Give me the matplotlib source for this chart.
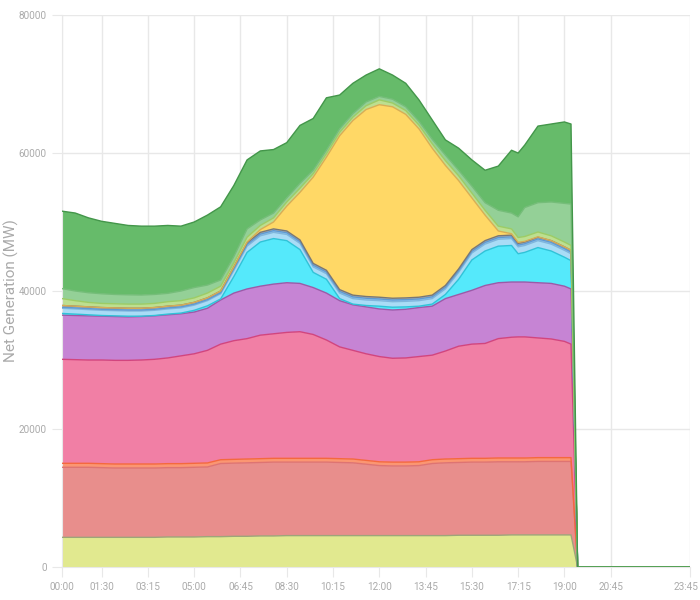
import matplotlib
matplotlib.use("Agg")
import matplotlib.pyplot as plt
import matplotlib.transforms as mtransforms
import numpy as np

# Sample times (HH:MM)
times = ["00:00", "00:30", "01:00", "01:30", "02:00", "02:30", "03:00", "03:30", "04:00", "04:30",
         "05:00", "05:30", "06:00", "06:30", "07:00", "07:30", "08:00", "08:30", "09:00", "09:30",
         "10:00", "10:30", "11:00", "11:30", "12:00", "12:30", "13:00", "13:30", "14:00", "14:30",
         "15:00", "15:30", "16:00", "16:30", "17:00", "17:15", "17:30", "18:00", "18:30", "19:00",
         "19:15", "19:30", "23:45"]

tick_labels = ["00:00", "01:30", "03:15", "05:00", "06:45", "08:30", "10:15",
               "12:00", "13:45", "15:30", "17:15", "19:00", "20:45", "23:45"]
y_ticks = [0, 20000, 40000, 60000, 80000]

# Net generation by source (MW), bottom of the stack first
nuclear = [4300, 4300, 4300, 4300, 4300, 4300, 4300, 4300, 4350, 4350,
           4350, 4400, 4400, 4450, 4450, 4500, 4500, 4550, 4550, 4550,
           4550, 4550, 4550, 4550, 4550, 4550, 4550, 4550, 4550, 4550,
           4600, 4600, 4600, 4600, 4650, 4650, 4650, 4650, 4650, 4650,
           4650, 0, 0]
coal = [10150, 10150, 10150, 10100, 10050, 10050, 10050, 10050, 10050, 10050,
        10100, 10100, 10600, 10600, 10650, 10650, 10700, 10650, 10650, 10650,
        10650, 10600, 10550, 10350, 10150, 10100, 10100, 10150, 10450, 10550,
        10550, 10600, 10600, 10650, 10600, 10600, 10600, 10650, 10650, 10650,
        10650, 0, 0]
biomass = [580, 580, 580, 580, 580, 580, 580, 580, 580, 580,
           580, 580, 550, 550, 550, 550, 550, 550, 550, 550,
           550, 550, 550, 550, 550, 550, 550, 550, 550, 550,
           550, 550, 550, 550, 550, 550, 550, 550, 550, 550,
           550, 0, 0]
gas_cc = [15070, 15020, 14970, 15020, 15020, 15020, 15070, 15170, 15320, 15620,
          15870, 16320, 16750, 17200, 17450, 17900, 18050, 18250, 18350, 17950,
          17150, 16200, 15750, 15450, 15250, 15050, 15100, 15250, 15150, 15650,
          16300, 16550, 16650, 17300, 17500, 17550, 17550, 17350, 17200, 16850,
          16450, 0, 0]
gas = [6400, 6400, 6400, 6350, 6350, 6300, 6300, 6300, 6250, 6100,
       6050, 6100, 6400, 6900, 7200, 7100, 7200, 7200, 7000, 6800,
       6800, 6700, 6600, 6800, 6900, 7000, 7050, 7100, 7100, 7600,
       7500, 7800, 8400, 8100, 8000, 7950, 7950, 8000, 8050, 8000,
       8000, 0, 0]
storage = [250, 200, 150, 100, 100, 100, 50, 50, 100, 100,
           250, 350, 150, 2400, 5300, 6400, 6600, 6100, 4900, 2200,
           2000, 300, 100, 200, 400, 400, 350, 200, 300, 600,
           2200, 4400, 5000, 5300, 5300, 4100, 4300, 5100, 4700, 4200,
           4100, 0, 0]
hydro = [750, 750, 750, 750, 750, 750, 750, 750, 750, 750,
         750, 750, 750, 900, 900, 900, 900, 900, 900, 800,
         800, 800, 800, 800, 800, 800, 800, 800, 800, 800,
         1000, 1000, 1000, 1000, 1000, 1000, 1000, 1000, 1000, 1000,
         1000, 0, 0]
imports = [150, 150, 150, 150, 150, 150, 150, 150, 150, 150,
           150, 150, 150, 250, 250, 250, 250, 250, 250, 250,
           250, 250, 250, 250, 250, 250, 250, 250, 250, 250,
           250, 250, 250, 250, 250, 250, 250, 250, 250, 250,
           250, 0, 0]
other = [250, 250, 250, 250, 250, 250, 250, 250, 250, 250,
         250, 250, 250, 250, 250, 250, 250, 250, 250, 250,
         250, 250, 250, 250, 250, 250, 250, 250, 250, 250,
         250, 250, 250, 250, 250, 250, 250, 250, 250, 250,
         250, 0, 0]
solar = [0, 0, 0, 0, 0, 0, 0, 0, 0, 0,
         0, 0, 0, 0, 100, 400, 1000, 3600, 6900, 12500,
         16400, 22300, 25300, 27100, 27900, 27750, 26600, 24400, 21300, 17400,
         12800, 7500, 3700, 700, 200, 150, 100, 50, 0, 0,
         0, 0, 0]
wind_south = [1000, 800, 650, 600, 600, 600, 600, 600, 650, 650,
              650, 700, 700, 600, 700, 600, 600, 600, 600, 500,
              500, 500, 500, 550, 700, 550, 550, 550, 650, 700,
              700, 700, 700, 700, 700, 700, 700, 700, 700, 700,
              700, 0, 0]
wind_coastal = [1450, 1400, 1400, 1400, 1350, 1350, 1320, 1300, 1210, 1400,
                1500, 1160, 900, 900, 1200, 800, 700, 600, 700, 500,
                500, 500, 500, 550, 500, 550, 550, 550, 650, 800,
                800, 1000, 1100, 2300, 2300, 3000, 4200, 4250, 4900, 5600,
                6000, 0, 0]
wind = [11220, 11300, 10850, 10500, 10300, 10050, 9980, 9900, 9840, 9400,
        9500, 10140, 10600, 10300, 10000, 10000, 9200, 8000, 8400, 7500,
        7600, 4900, 4400, 3900, 4000, 3500, 3400, 3100, 2800, 2200,
        3200, 3800, 4700, 6400, 9100, 9240, 9050, 11100, 11300, 11800,
        11600, 0, 0]

series = [nuclear, coal, biomass, gas_cc, gas, storage, hydro, imports,
          other, solar, wind_south, wind_coastal, wind]
fills = ["#e1e98f", "#e88e8c", "#fb9672", "#f17fa5", "#c684d4", "#55e9fb",
         "#a9dcf6", "#8fc4f2", "#b3b3b3", "#ffd866", "#bddf90", "#94d097",
         "#66bb6a"]
edges = ["#9ea57a", "#de7472", "#f4693e", "#d2457e", "#9b5aa8", "#2fc3d8",
         "#7fb6dc", "#5e9ad2", "#777777", "#d8ae55", "#9ccc65", "#75bd79",
         "#43964a"]


def to_hours(t):
    h, m = t.split(":")
    return int(h) + int(m) / 60.0


x = np.array([to_hours(t) for t in times])
tick_pos = [to_hours(t) for t in tick_labels]
stack = np.cumsum(np.array(series, dtype=float), axis=0)

plt.rcParams['font.family'] = ['Roboto', 'DejaVu Sans']

fig = plt.figure(figsize=(7, 6), dpi=100)
ax = fig.add_axes([62 / 700, 1 - 567 / 600, 628 / 700, 552 / 600])

ax.stackplot(x, series, colors=fills, linewidth=0, zorder=2)
for top, c in zip(stack, edges):
    ax.plot(x, top, color=c, linewidth=1, zorder=3)

ax.set_xlim(0, 23.75)
ax.set_ylim(0, 80000)
ax.set_xticks(tick_pos)
ax.set_xticklabels(tick_labels)
ax.set_yticks(y_ticks)
ax.set_yticklabels([str(v) for v in y_ticks])

grid_c = "#e8e8e8"
ax.grid(True, color=grid_c, linewidth=1, zorder=0)
ax.set_axisbelow(True)
for side in ["top", "right"]:
    ax.spines[side].set_visible(False)
for side in ["left", "bottom"]:
    ax.spines[side].set_color(grid_c)
ax.tick_params(axis="both", colors=grid_c, length=7, labelcolor="#ababab",
               labelsize=7.2, pad=4)

# keep the last time label inside the canvas
last = ax.get_xticklabels()[-1]
last.set_horizontalalignment("right")
last.set_transform(last.get_transform() +
                   mtransforms.ScaledTranslation(8 / 100, 0, fig.dpi_scale_trans))

ax.set_ylabel("Net Generation (MW)", color="#aaaaaa", fontsize=11)
ax.yaxis.set_label_coords(-43 / 628, 0.5)

fig.savefig("out.png", dpi=100)
